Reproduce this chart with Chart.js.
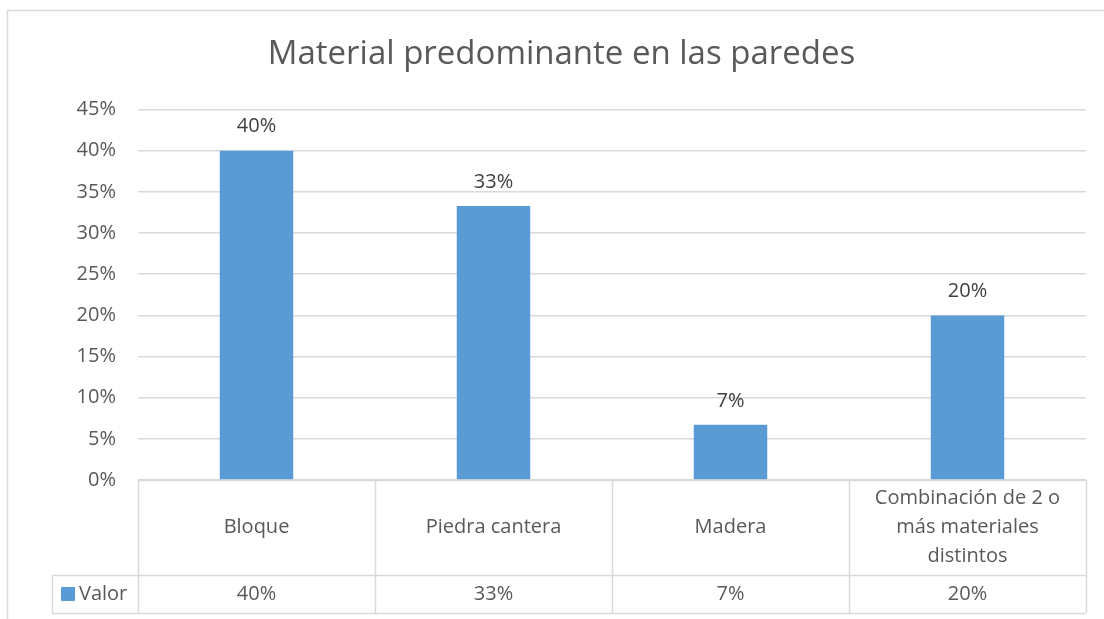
<!DOCTYPE html>
<html>
<head>
<meta charset="utf-8">
<title>Material predominante en las paredes</title>
<script src="https://cdn.jsdelivr.net/npm/chart.js@4.4.0/dist/chart.umd.min.js"></script>
<style>
  html, body { margin: 0; padding: 0; background: #ffffff; }
  canvas { display: block; }
</style>
</head>
<body>
<canvas id="wallChart" width="1104" height="619"></canvas>
<script>
// Datos
const categories = ["Bloque", "Piedra cantera", "Madera", ["Combinación de 2 o", "más materiales", "distintos"]];
const values = [40, 33.3, 6.7, 20];
const seriesName = "Valor";
const yTickMax = 45;
const yTickStep = 5;

const BAR_COLOR = "#5B9BD5";
const LINE_COLOR = "#D9D9D9";
const TEXT_COLOR = "#595959";
const LABEL_COLOR = "#404040";
const FONT = "'Open Sans', sans-serif";

Chart.defaults.font.family = FONT;

function pct(v) {
  return Math.round(v) + "%";
}

/**
 * Dibuja el marco exterior, las etiquetas de datos y la tabla de datos
 * debajo del eje X, usando las posiciones de las escalas.
 */
const dataTablePlugin = {
  id: "dataTable",
  beforeDraw(chart) {
    const ctx = chart.ctx;
    ctx.save();
    ctx.strokeStyle = LINE_COLOR;
    ctx.lineWidth = 1.5;
    ctx.strokeRect(7.5, 10.5, chart.width + 20, chart.height + 20);
    ctx.restore();
  },
  afterDraw(chart) {
    const ctx = chart.ctx;
    const x = chart.scales.x;
    const y = chart.scales.y;
    const area = chart.chartArea;
    const step = (area.right - area.left) / categories.length;
    const top = area.bottom;
    const split = top + 95;
    const bottom = top + 133;
    const legendLeft = 52;

    ctx.save();

    // etiquetas encima de las barras
    ctx.fillStyle = LABEL_COLOR;
    ctx.font = "20px " + FONT;
    ctx.textAlign = "center";
    ctx.textBaseline = "middle";
    values.forEach((v, i) => {
      ctx.fillText(pct(v), x.getPixelForValue(i), y.getPixelForValue(v) - 24);
    });

    // líneas de la tabla
    ctx.strokeStyle = LINE_COLOR;
    ctx.lineWidth = 1.5;
    ctx.beginPath();
    ctx.moveTo(area.left, top + 0.5);
    ctx.lineTo(area.right, top + 0.5);
    ctx.moveTo(legendLeft, split + 0.5);
    ctx.lineTo(area.right, split + 0.5);
    ctx.moveTo(legendLeft, bottom + 0.5);
    ctx.lineTo(area.right, bottom + 0.5);
    ctx.moveTo(legendLeft + 0.5, split);
    ctx.lineTo(legendLeft + 0.5, bottom);
    for (let i = 0; i <= categories.length; i++) {
      const px = Math.round(x.getPixelForValue(i) - step / 2) + 0.5;
      ctx.moveTo(px, top);
      ctx.lineTo(px, bottom);
    }
    ctx.stroke();

    // nombres de categoría
    ctx.fillStyle = TEXT_COLOR;
    const midHead = (top + split) / 2;
    const lineH = 29;
    categories.forEach((c, i) => {
      const lines = Array.isArray(c) ? c : [c];
      const cx = x.getPixelForValue(i);
      lines.forEach((t, j) => {
        ctx.fillText(t, cx, midHead + (j - (lines.length - 1) / 2) * lineH);
      });
    });

    // fila de valores
    const midVal = (split + bottom) / 2;
    values.forEach((v, i) => {
      ctx.fillText(pct(v), x.getPixelForValue(i), midVal);
    });

    // clave de leyenda
    ctx.fillStyle = BAR_COLOR;
    ctx.fillRect(61, midVal - 7, 14, 14);
    ctx.fillStyle = TEXT_COLOR;
    ctx.textAlign = "left";
    ctx.fillText(seriesName, 79, midVal);

    ctx.restore();
  }
};

const ctx = document.getElementById("wallChart").getContext("2d");
new Chart(ctx, {
  type: "bar",
  data: {
    labels: categories,
    datasets: [
      {
        label: seriesName,
        data: values,
        backgroundColor: BAR_COLOR,
        categoryPercentage: 1,
        barPercentage: 0.31,
      },
    ],
  },
  options: {
    responsive: false,
    animation: false,
    devicePixelRatio: 1,
    layout: {
      padding: { left: 37, right: 18, top: 0, bottom: 7 },
    },
    plugins: {
      legend: { display: false },
      tooltip: { enabled: false },
      title: {
        display: true,
        text: "Material predominante en las paredes",
        color: TEXT_COLOR,
        font: { size: 33, weight: "normal", family: FONT },
        padding: { top: 35, bottom: 35 },
      },
    },
    scales: {
      x: {
        ticks: { display: false },
        grid: { display: false },
        border: { display: false },
        afterFit(scale) {
          scale.height = 132;
        },
      },
      y: {
        min: 0,
        max: yTickMax,
        ticks: {
          stepSize: yTickStep,
          padding: 22,
          color: TEXT_COLOR,
          font: { size: 20 },
          callback: (v) => v + "%",
        },
        grid: { color: LINE_COLOR, lineWidth: 1.5, drawTicks: false },
        border: { display: false },
        afterFit(scale) {
          scale.width = 101;
        },
      },
    },
  },
  plugins: [dataTablePlugin],
});
</script>
</body>
</html>
